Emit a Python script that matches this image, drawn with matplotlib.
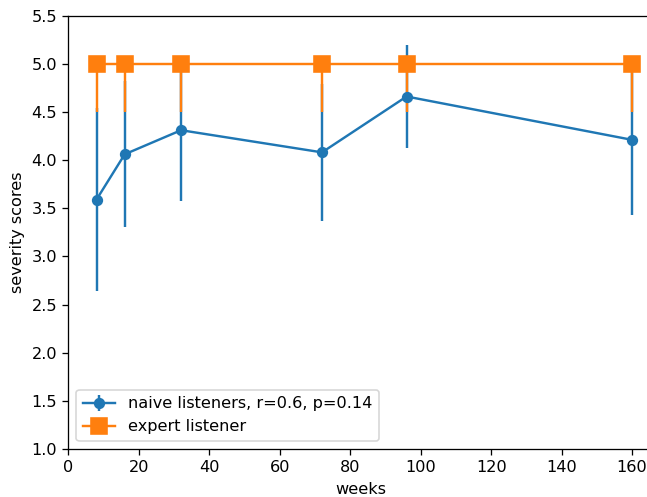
import numpy as np
import matplotlib
matplotlib.use('Agg')
import matplotlib.pyplot as plt

# weeks of recording
weeks = [8, 16, 32, 72, 96, 160]

# naive listeners: mean severity and spread
naive_mean = [3.59, 4.06, 4.31, 4.08, 4.66, 4.21]
naive_err = [0.95, 0.76, 0.73, 0.71, 0.53, 0.78]

# expert listener
expert_score = [5.0, 5.0, 5.0, 5.0, 5.0, 5.0]
expert_err_low = [0.5, 0.5, 0.5, 0.5, 0.5, 0.5]
expert_err_high = [0, 0, 0, 0, 0, 0]

dpi = 116
fig = plt.figure(figsize=(647 / dpi, 497 / dpi), dpi=dpi)
ax = fig.add_axes([0.1056, 0.0966, 0.904, 0.872])

ax.errorbar(weeks, naive_mean, yerr=naive_err, marker='o',
            label='naive listeners, r=0.6, p=0.14')
ax.errorbar(weeks, expert_score, yerr=[expert_err_low, expert_err_high],
            marker='s', markersize=10, label='expert listener')

ax.set_xlim(0, 166)
ax.set_ylim(1.0, 5.5)
ax.set_xticks(np.arange(0, 161, 20))
ax.set_yticks(np.arange(1.0, 5.51, 0.5))
ax.spines['right'].set_visible(False)
ax.set_xlabel('weeks')
ax.set_ylabel('severity scores')
ax.legend(loc='lower left')

fig.savefig('out.png', dpi=dpi)
